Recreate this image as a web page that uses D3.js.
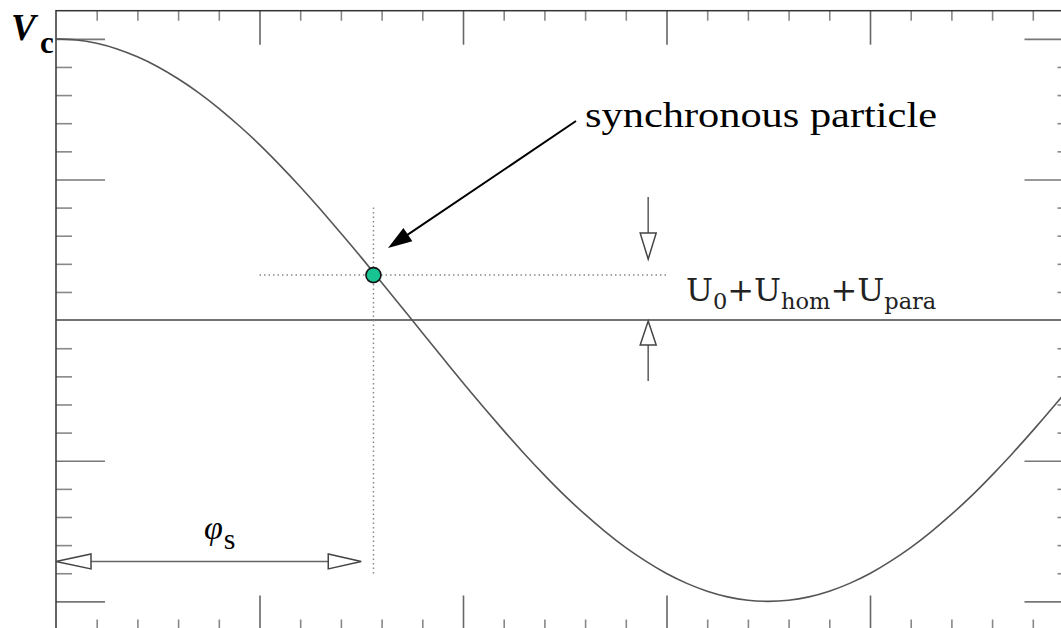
<!DOCTYPE html>
<html>
<head>
<meta charset="utf-8">
<script src="https://cdn.jsdelivr.net/npm/d3@7"></script>
<style>
  body { margin: 0; background: #fff; }
  svg { display: block; }
</style>
</head>
<body>
<svg id="chart"></svg>
<script>
// phase in major-tick units, voltage normalised to the crest
const curveT = [0, 0.1, 0.2, 0.3, 0.4, 0.5, 0.6, 0.7, 0.8, 0.9,
  1.0, 1.1, 1.2, 1.3, 1.4, 1.5, 1.6, 1.7, 1.8, 1.9,
  2.0, 2.1, 2.2, 2.3, 2.4, 2.5, 2.6, 2.7, 2.8, 2.9,
  3.0, 3.1, 3.2, 3.3, 3.4, 3.5, 3.6, 3.7, 3.8, 3.9,
  4.0, 4.1, 4.2, 4.3, 4.4, 4.5, 4.6, 4.7, 4.8, 4.9, 5.0];
const curveV = [1.00, 0.996, 0.984, 0.964, 0.936, 0.901, 0.858, 0.809, 0.753, 0.691,
  0.624, 0.551, 0.474, 0.393, 0.309, 0.223, 0.134, 0.045, -0.045, -0.134,
  -0.223, -0.309, -0.393, -0.474, -0.551, -0.624, -0.691, -0.753, -0.809, -0.858,
  -0.901, -0.936, -0.964, -0.984, -0.996, -1.00, -0.996, -0.984, -0.964, -0.936,
  -0.901, -0.858, -0.809, -0.753, -0.691, -0.624, -0.551, -0.474, -0.393, -0.309, -0.223];

const xMinorTicks = [0.2, 0.4, 0.6, 0.8, 1.2, 1.4, 1.6, 1.8, 2.2, 2.4, 2.6, 2.8,
  3.2, 3.4, 3.6, 3.8, 4.2, 4.4, 4.6, 4.8];
const xMajorTicks = [1, 2, 3, 4];
const yMinorTicks = [-0.9, -0.8, -0.7, -0.6, -0.4, -0.3, -0.2, -0.1,
  0.1, 0.2, 0.3, 0.4, 0.6, 0.7, 0.8, 0.9];
const yMajorTicks = [-1, -0.5, 0.5, 1];

// synchronous particle and annotation anchors (data units)
const syncT = [1.56];
const syncV = [0.16];
const gapArrowT = [2.91];
const gapLevels = [0.16, 0];

const W = 1061, H = 628;
const svg = d3.select("#chart").attr("width", W).attr("height", H);

const x = d3.scaleLinear().domain([0, 5]).range([56, 1073.5]);
const y = d3.scaleLinear().domain([-1.1, 1.1]).range([629.5, 10.7]);

const frame = svg.append("g");

function ticks(axis, values, size, tr, color) {
  const g = frame.append("g")
    .attr("transform", tr)
    .call(axis.tickValues(values).tickSize(size).tickFormat(""));
  g.select(".domain").remove();
  g.selectAll(".tick line").attr("stroke", color).attr("stroke-width", 1.6);
}

ticks(d3.axisTop(x), xMinorTicks, -10, `translate(0,${y(1.1)})`, "#888");
ticks(d3.axisTop(x), xMajorTicks, -34, `translate(0,${y(1.1)})`, "#666");
ticks(d3.axisBottom(x), xMinorTicks, -10, `translate(0,${y(-1.1)})`, "#888");
ticks(d3.axisBottom(x), xMajorTicks, -34, `translate(0,${y(-1.1)})`, "#666");
ticks(d3.axisLeft(y), yMinorTicks, -16, `translate(${x(0)},0)`, "#888");
ticks(d3.axisLeft(y), yMajorTicks, -49, `translate(${x(0)},0)`, "#777");
ticks(d3.axisRight(y), yMinorTicks, -16, `translate(${x(5)},0)`, "#888");
ticks(d3.axisRight(y), yMajorTicks, -49, `translate(${x(5)},0)`, "#777");

frame.append("rect")
  .attr("x", x(0)).attr("y", y(1.1))
  .attr("width", x(5) - x(0)).attr("height", y(-1.1) - y(1.1))
  .attr("fill", "none").attr("stroke", "#333").attr("stroke-width", 1.5);

// zero line
svg.append("line")
  .attr("x1", x(0)).attr("x2", x(5)).attr("y1", y(0)).attr("y2", y(0))
  .attr("stroke", "#444").attr("stroke-width", 1.5);

// dotted guides through the synchronous particle
svg.append("line")
  .attr("x1", x(syncT[0])).attr("x2", x(syncT[0]))
  .attr("y1", y(0.40)).attr("y2", y(-0.905))
  .attr("stroke", "#888").attr("stroke-width", 1.5).attr("stroke-dasharray", "1.5,3");
svg.append("line")
  .attr("x1", x(1)).attr("x2", x(3))
  .attr("y1", y(syncV[0])).attr("y2", y(syncV[0]))
  .attr("stroke", "#888").attr("stroke-width", 1.5).attr("stroke-dasharray", "1.5,3");

// cavity voltage
const line = d3.line()
  .x((d, i) => x(curveT[i]))
  .y(d => y(d))
  .curve(d3.curveNatural);
svg.append("path")
  .datum(curveV)
  .attr("d", line)
  .attr("fill", "none").attr("stroke", "#555").attr("stroke-width", 1.6);

// hollow arrowhead: tip (tx,ty), pointing along unit vector (ux,uy)
function hollowHead(tx, ty, ux, uy, len, half) {
  const bx = tx - ux * len, by = ty - uy * len;
  const px = -uy * half, py = ux * half;
  svg.append("path")
    .attr("d", `M${tx},${ty}L${bx + px},${by + py}L${bx - px},${by - py}Z`)
    .attr("fill", "#fff").attr("stroke", "#444").attr("stroke-width", 1.5);
}

// U arrows
const ax = x(gapArrowT[0]);
const topTip = y(gapLevels[0]) - 16, botTip = y(gapLevels[1]) + 1;
svg.append("line").attr("x1", ax).attr("x2", ax)
  .attr("y1", topTip - 62).attr("y2", topTip - 26)
  .attr("stroke", "#666").attr("stroke-width", 1.6);
hollowHead(ax, topTip, 0, 1, 26, 8);
svg.append("line").attr("x1", ax).attr("x2", ax)
  .attr("y1", botTip + 60).attr("y2", botTip + 24)
  .attr("stroke", "#666").attr("stroke-width", 1.6);
hollowHead(ax, botTip, 0, -1, 24, 8);

// phi_s double arrow
const ay = y(-0.858);
svg.append("line").attr("x1", x(0) + 34).attr("x2", x(1.5) - 33)
  .attr("y1", ay).attr("y2", ay)
  .attr("stroke", "#666").attr("stroke-width", 1.6);
hollowHead(x(0), ay, -1, 0, 35, 7.5);
hollowHead(x(1.5), ay, 1, 0, 33, 7.5);

// pointer to synchronous particle
const sx = 576, sy = 121, ex = 388, ey = 248;
const L = Math.hypot(sx - ex, sy - ey), ux = (ex - sx) / L, uy = (ey - sy) / L;
svg.append("line").attr("x1", sx).attr("y1", sy)
  .attr("x2", ex - ux * 18).attr("y2", ey - uy * 18)
  .attr("stroke", "#000").attr("stroke-width", 2);
{
  const bx = ex - ux * 24, by = ey - uy * 24, px = -uy * 8, py = ux * 8;
  svg.append("path")
    .attr("d", `M${ex},${ey}L${bx + px},${by + py}L${bx - px},${by - py}Z`)
    .attr("fill", "#000");
}

// the particle
svg.append("circle")
  .attr("cx", x(syncT[0])).attr("cy", y(syncV[0])).attr("r", 7.5)
  .attr("fill", "#19c493").attr("stroke", "#111").attr("stroke-width", 1.6);

// labels
const serif = "'Liberation Serif', 'Times New Roman', serif";
svg.append("text").attr("x", 11).attr("y", 40)
  .attr("font-family", serif).attr("fill", "#000")
  .attr("font-size", 37).attr("font-weight", "bold").attr("font-style", "italic")
  .text("V");
svg.append("text").attr("x", 40).attr("y", 53)
  .attr("font-family", serif).attr("fill", "#000")
  .attr("font-size", 31).attr("font-weight", "bold")
  .text("c");

svg.append("text").attr("x", 585).attr("y", 127)
  .attr("font-family", serif).attr("font-size", 36).attr("fill", "#000")
  .attr("textLength", 352).attr("lengthAdjust", "spacingAndGlyphs")
  .text("synchronous particle");

const ul = svg.append("text").attr("x", 686).attr("y", 301)
  .attr("font-family", "'DejaVu Serif', serif").attr("fill", "#222");
const parts = [["U", false], ["0", true], ["+", false], ["U", false], ["hom", true],
  ["+", false], ["U", false], ["para", true]];
let sub = false;
parts.forEach(([t, s]) => {
  const ts = ul.append("tspan").text(t).attr("font-size", s ? 22.5 : 32);
  if (s !== sub) ts.attr("dy", s ? 8 : -8);
  sub = s;
});

const ph = svg.append("text").attr("x", 204).attr("y", 539)
  .attr("font-family", serif).attr("fill", "#000");
ph.append("tspan").text("φ").attr("font-size", 34).attr("font-style", "italic");
ph.append("tspan").text("s").attr("font-size", 30).attr("dy", 10).attr("dx", 1);
</script>
</body>
</html>
